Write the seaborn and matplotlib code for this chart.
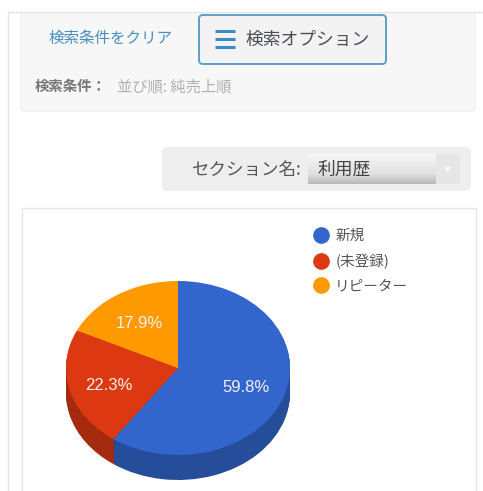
#!/usr/bin/env python3
import matplotlib
matplotlib.use('Agg')
import matplotlib.pyplot as plt
from matplotlib.lines import Line2D
from matplotlib.patches import FancyBboxPatch, Rectangle
import numpy as np
import seaborn as sns

W, H = 483, 491

segments = ['新規', '(未登録)', 'リピーター']
shares = [59.8, 22.3, 17.9]
top_colors = ['#3366cc', '#dc3912', '#ff9900']
side_colors = ['#264d99', '#a52b0e', '#bf7300']

sns.set_theme(style='white')
plt.rcParams['font.family'] = ['Noto Sans CJK JP', 'DejaVu Sans']


def px_axes(fig, x0, y0, x1, y1):
  # axes placed with top-left pixel coordinates
  return fig.add_axes([x0 / W, 1 - y1 / H, (x1 - x0) / W, (y1 - y0) / H])


def box(ax, x0, y0, x1, y1, fc, ec='none', lw=1, r=4, z=1):
  ax.add_patch(FancyBboxPatch((x0 + r, y0 + r), x1 - x0 - 2 * r, y1 - y0 - 2 * r,
                              boxstyle=f'round,pad={r},rounding_size={r}',
                              fc=fc, ec=ec, lw=lw, zorder=z))


fig = plt.figure(figsize=(W / 100, H / 100), dpi=100, facecolor='white')

# page furniture, in pixels
bg = fig.add_axes([0, 0, 1, 1])
bg.set_xlim(0, W)
bg.set_ylim(H, 0)
bg.axis('off')

box(bg, 21, 4, 475, 111, '#f7f7f7', ec='#eeeeee')
bg.add_patch(Rectangle((0, 0), W, 12, fc='white', ec='none', zorder=1.5))
bg.plot([8, 483], [12, 12], color='#e4e4e4', lw=1, zorder=1.6)
bg.plot([8, 8], [12, 491], color='#e4e4e4', lw=1)

bg.text(111, 38, '検索条件をクリア', color='#4a8fc0', fontsize=11.2, ha='center', va='center')
box(bg, 199, 15, 386, 64, '#f3f3f3', ec='#5b9fc9', lw=1.4, z=2)
for y in [31, 39, 47]:
  bg.plot([215, 235], [y, y], color='#3d8cc4', lw=2.2, solid_capstyle='butt', zorder=3)
bg.text(245, 40, '検索オプション', color='#4a4f55', fontsize=12.8, va='center', zorder=3)
bg.text(35, 87, '検索条件：', color='#777777', fontsize=10.4, fontweight='bold', va='center')
bg.text(117, 87, '並び順: 純売上順', color='#b0b0b0', fontsize=11, va='center')

box(bg, 162, 147, 471, 191, '#eeeeee', r=5)
bg.text(192, 170, 'セクション名:', color='#555555', fontsize=12.6, va='center')
grad = np.linspace(0, 1, 64).reshape(-1, 1)
cmap = sns.blend_palette(['#f6f6f6', '#ebebeb', '#e0e0e0', '#b8b8b8'], as_cmap=True)
bg.imshow(grad, extent=(308, 436, 184, 154), origin='upper', cmap=cmap, aspect='auto', zorder=2)
bg.add_patch(Rectangle((436, 154), 24, 30, fc='#e6e6e6', ec='none', zorder=2))
bg.plot([447], [169], marker='v', ms=3.5, color='#f8f8f8', zorder=3)
bg.text(318, 170, '利用歴', color='#444444', fontsize=12.8, va='center', zorder=3)
bg.set_xlim(0, W)
bg.set_ylim(H, 0)

bg.add_patch(Rectangle((21.5, 208), 454, 290, fc='white', ec='#e6e6e6', lw=1, zorder=1))

# pie: top ellipse spans 66..290 x 281..455, side wall goes 25 px lower
depth = 25 / 87
ax = px_axes(fig, 66, 281, 290, 480)
ax.patch.set_alpha(0)
flat = {'linewidth': 0, 'edgecolor': 'none'}
for dy in np.linspace(depth, 0, 26)[:-1]:
  ax.pie(shares, colors=sns.color_palette(side_colors), startangle=90, counterclock=False,
         center=(0, -dy), radius=1, wedgeprops=flat)
wedges, _, pct = ax.pie(shares, colors=sns.color_palette(top_colors), startangle=90,
                        counterclock=False, autopct='%.1f%%', pctdistance=0.64, wedgeprops=flat)
for t in pct:
  t.set_color('#f4f0ee')
  t.set_fontsize(12)
  t.set_family('Liberation Sans')
  t.set_y(t.get_position()[1] - 3 / 87)
ax.set_aspect('auto')
ax.set_xlim(-1, 1)
ax.set_ylim(-1 - depth, 1)

handles = [Line2D([], [], ls='none', marker='o', ms=11, color=c) for c in top_colors]
fig.legend(handles, segments, loc='upper left', bbox_to_anchor=(306 / W, 1 - 229 / H),
           frameon=False, fontsize=10.5, labelcolor='#555555', handletextpad=0,
           labelspacing=0.72, borderpad=0, borderaxespad=0)

fig.savefig('out.png', dpi=100)
